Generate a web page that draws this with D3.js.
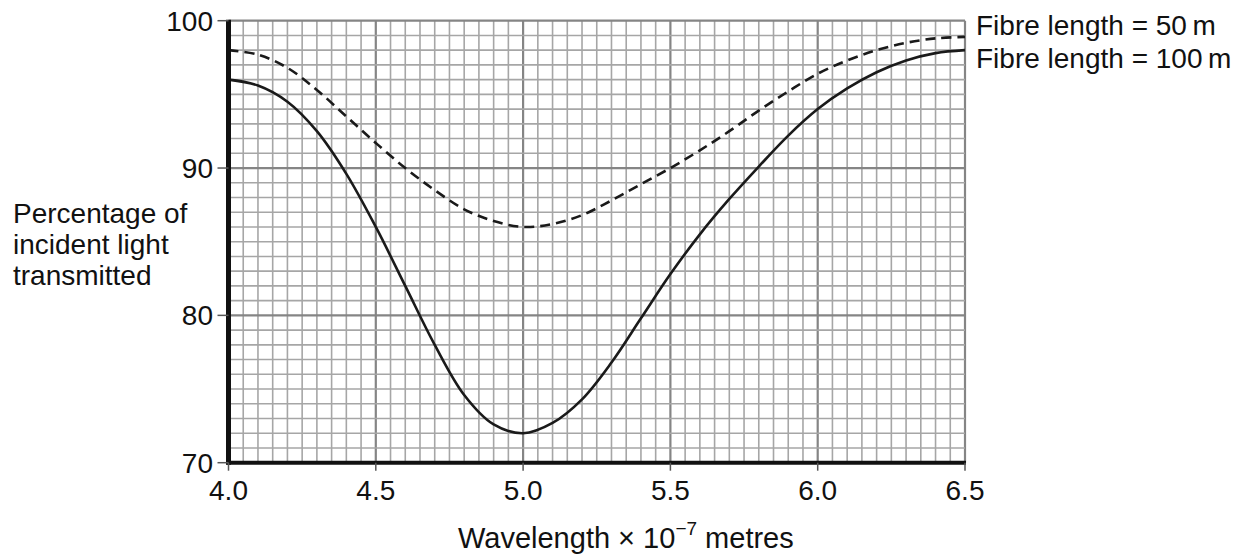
<!DOCTYPE html>
<html>
<head>
<meta charset="utf-8">
<script src="https://cdn.jsdelivr.net/npm/d3@7/dist/d3.min.js"></script>
<style>
    body { margin: 0; background: #fff; }
    text { font-family: "Liberation Sans", Arial, Helvetica, sans-serif; fill: #111; }
</style>
</head>
<body>
<script>
//chart values
var wavelength = [4.0, 4.1, 4.2, 4.3, 4.4, 4.5, 4.6, 4.7, 4.8, 4.9, 5.0,
                  5.1, 5.2, 5.3, 5.4, 5.5, 5.6, 5.7, 5.8, 5.9, 6.0,
                  6.1, 6.2, 6.3, 6.4, 6.5];
var fibre50 = [98, 97.7, 96.8, 95.3, 93.5, 91.7, 90, 88.5, 87.2, 86.4, 86,
               86.2, 86.8, 87.8, 88.9, 90, 91.2, 92.5, 93.9, 95.2, 96.4,
               97.3, 98, 98.5, 98.8, 98.9];
var fibre100 = [96, 95.6, 94.5, 92.5, 89.6, 86, 82, 78, 74.6, 72.6, 72,
                72.7, 74.3, 76.8, 79.8, 82.8, 85.5, 87.9, 90.1, 92.2, 94,
                95.4, 96.5, 97.3, 97.8, 98];
var xTicks = [4.0, 4.5, 5.0, 5.5, 6.0, 6.5];
var xTickLabels = ["4.0", "4.5", "5.0", "5.5", "6.0", "6.5"];
var yTicks = [70, 80, 90, 100];
var yTickLabels = ["70", "80", "90", "100"];
var legendLabels = ["Fibre length = 50\u2009m", "Fibre length = 100\u2009m"];
var yTitle = ["Percentage of", "incident light", "transmitted"];

(function (){

    var width = 1251, height = 559;

    var svg = d3.select("body")
        .append("svg")
        .attr("width", width)
        .attr("height", height);

    //scales match the plot frame of the picture
    var x = d3.scaleLinear().domain([4.0, 6.5]).range([228.5, 965]);
    var y = d3.scaleLinear().domain([70, 100]).range([462.7, 20.7]);

    //grid lines, minor every 0.05 / 1 %, heavier every 0.5 / 10 %
    var xGrid = d3.range(0, 51).map(function(i){ return 4.0 + i * 0.05; });
    var yGrid = d3.range(70, 101);

    var grid = svg.append("g").attr("class", "grid");

    grid.selectAll(".vline")
        .data(xGrid)
        .enter()
        .append("line")
        .attr("x1", function(d){ return x(d); })
        .attr("x2", function(d){ return x(d); })
        .attr("y1", y(100))
        .attr("y2", y(70))
        .attr("stroke", function(d, i){ return i % 10 == 0 ? "#858585" : "#a6a6a6"; })
        .attr("stroke-width", function(d, i){ return i % 10 == 0 ? 2.2 : 1.6; });

    grid.selectAll(".hline")
        .data(yGrid)
        .enter()
        .append("line")
        .attr("x1", x(4.0))
        .attr("x2", x(6.5))
        .attr("y1", function(d){ return y(d); })
        .attr("y2", function(d){ return y(d); })
        .attr("stroke", function(d){ return d % 10 == 0 ? "#858585" : "#a6a6a6"; })
        .attr("stroke-width", function(d){ return d % 10 == 0 ? 2.2 : 1.6; });

    //the two curves
    var line = d3.line()
        .x(function(d){ return x(d[0]); })
        .y(function(d){ return y(d[1]); })
        .curve(d3.curveCatmullRom.alpha(0.5));

    svg.append("path")
        .datum(d3.zip(wavelength, fibre50))
        .attr("d", line)
        .attr("fill", "none")
        .attr("stroke", "#1a1a1a")
        .attr("stroke-width", 2.6)
        .attr("stroke-dasharray", "10,6");

    svg.append("path")
        .datum(d3.zip(wavelength, fibre100))
        .attr("d", line)
        .attr("fill", "none")
        .attr("stroke", "#1a1a1a")
        .attr("stroke-width", 2.6);

    //thick axes on left and bottom
    svg.append("line")
        .attr("x1", x(4.0)).attr("x2", x(4.0))
        .attr("y1", y(100) - 1).attr("y2", y(70) + 2)
        .attr("stroke", "#111").attr("stroke-width", 5);

    svg.append("line")
        .attr("x1", x(4.0) - 2).attr("x2", x(6.5) + 1)
        .attr("y1", y(70)).attr("y2", y(70))
        .attr("stroke", "#111").attr("stroke-width", 4);

    //tick marks
    svg.selectAll(".xtick")
        .data(xTicks)
        .enter()
        .append("line")
        .attr("x1", function(d){ return x(d); })
        .attr("x2", function(d){ return x(d); })
        .attr("y1", y(70))
        .attr("y2", y(70) + 8)
        .attr("stroke", "#555")
        .attr("stroke-width", 1.5);

    svg.selectAll(".ytick")
        .data(yTicks)
        .enter()
        .append("line")
        .attr("x1", x(4.0) - 11)
        .attr("x2", x(4.0))
        .attr("y1", function(d){ return y(d); })
        .attr("y2", function(d){ return y(d); })
        .attr("stroke", "#555")
        .attr("stroke-width", 1.5);

    //tick labels
    svg.selectAll(".xlabel")
        .data(xTicks)
        .enter()
        .append("text")
        .attr("x", function(d){ return x(d); })
        .attr("y", 500)
        .attr("text-anchor", "middle")
        .style("font-size", "28px")
        .text(function(d, i){ return xTickLabels[i]; });

    svg.selectAll(".ylabel")
        .data(yTicks)
        .enter()
        .append("text")
        .attr("x", 213)
        .attr("y", function(d){ return y(d); })
        .attr("dy", "0.35em")
        .attr("text-anchor", "end")
        .style("font-size", "28px")
        .text(function(d, i){ return yTickLabels[i]; });

    //y title in three lines
    svg.selectAll(".ytitle")
        .data(yTitle)
        .enter()
        .append("text")
        .attr("x", 13)
        .attr("y", function(d, i){ return 223 + i * 31; })
        .style("font-size", "28px")
        .text(function(d){ return d; });

    //x title with superscript
    var xTitle = svg.append("text")
        .attr("x", 458)
        .attr("y", 548)
        .style("font-size", "29px");
    xTitle.append("tspan").text("Wavelength \u00d7 10");
    xTitle.append("tspan").attr("dy", -13).style("font-size", "19px").text("\u22127");
    xTitle.append("tspan").attr("dy", 13).text(" metres");

    //labels at the right end of the curves
    svg.selectAll(".legend")
        .data(legendLabels)
        .enter()
        .append("text")
        .attr("x", 976)
        .attr("y", function(d, i){ return 35 + i * 33; })
        .style("font-size", "28px")
        .text(function(d){ return d; });

})();
</script>
</body>
</html>
